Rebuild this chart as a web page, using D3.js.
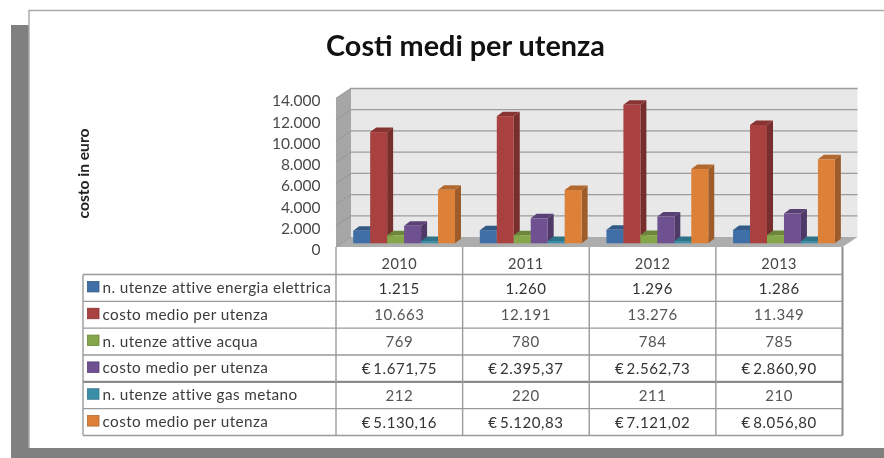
<!DOCTYPE html>
<html><head><meta charset="utf-8">
<style>html,body{margin:0;padding:0;background:#fff}svg{display:block;filter:blur(.55px)}
text{font-family:Lato,"Open Sans",sans-serif}</style>
<script src="https://cdn.jsdelivr.net/npm/d3@7"></script></head>
<body><svg id="c" width="884" height="458"></svg>
<script>
const years=["2010","2011","2012","2013"];
const seriesLabels=["n. utenze attive energia elettrica","costo medio per utenza","n. utenze attive acqua","costo medio per utenza","n. utenze attive gas metano","costo medio per utenza"];
const utenzeElettrica=[1215,1260,1296,1286];
const costoElettrica=[10663,12191,13276,11349];
const utenzeAcqua=[769,780,784,785];
const costoAcqua=[1671.75,2395.37,2562.73,2860.90];
const utenzeGas=[212,220,211,210];
const costoGas=[5130.16,5120.83,7121.02,8056.80];
const frontColors=["#3f6fa6","#a8413f","#86a64a","#6f5191","#3a8fa8","#dd8139"];
const yTicks=[0,2000,4000,6000,8000,10000,12000,14000];
const title="Costi medi per utenza";
const yTitle="costo in euro";

const seriesValues=[utenzeElettrica,costoElettrica,utenzeAcqua,costoAcqua,utenzeGas,costoGas];
const euroSeries=[false,false,false,true,false,true];
const it=d3.formatLocale({decimal:",",thousands:".",grouping:[3],currency:["€",""]});
const fmtInt=it.format(",d"),fmtEuro=it.format(",.2f");

const svg=d3.select("#c");
// page frame
svg.append("rect").attr("x",11).attr("y",25).attr("width",873).attr("height",433).attr("fill","#808080");
svg.append("rect").attr("x",29).attr("y",11).attr("width",855).attr("height",437).attr("fill","#fff");
svg.append("path").attr("d","M29,448V10.5H884").attr("fill","none").attr("stroke","#a8a8a8").attr("stroke-width",1.4);

svg.append("text").text(title).attr("x",465.5).attr("y",55.5).attr("text-anchor","middle")
  .attr("font-size",28.8).attr("font-weight",700).attr("fill","#111");
svg.append("text").text(yTitle).attr("transform","translate(88.5,173.5) rotate(-90)").attr("text-anchor","middle")
  .attr("font-size",15.6).attr("font-weight",700).attr("fill","#222");

// scales
const x=d3.scaleBand().domain(years).range([336,842.5]);
const inner=d3.scaleBand().domain(d3.range(6)).range([17.2,119]);
const barW=inner.bandwidth();
const barX=(yi,si)=>x(years[yi])+inner(si);
const wallD={dx:15,dy:10};
const yFront=d3.scaleLinear().domain([0,14000]).range([247,98.5]);
const yBar=d3.scaleLinear().domain([0,14000]).range([243.3,97.3]);
const depth={dx:6,dy:4.5};

// walls
const g=svg.append("g");
const wallL=x.range()[0],wallR=x.range()[1];
const y0=yFront(0),yT=yFront(14000);
g.append("path").attr("d",`M${wallL},${y0}L${wallL},${yT}L${wallL+wallD.dx},${yT-wallD.dy}L${wallL+wallD.dx},${y0-wallD.dy}Z`).attr("fill","#a6a6a6");
g.append("path").attr("d",`M${wallL},${y0}L${wallL+wallD.dx},${y0-wallD.dy}L${wallR+wallD.dx},${y0-wallD.dy}L${wallR},${y0}Z`).attr("fill","#adadad");
g.append("rect").attr("x",wallL+wallD.dx).attr("y",yT-wallD.dy).attr("width",wallR-wallL).attr("height",y0-yT).attr("fill","#e8e8e8");
g.selectAll("path.grid").data(yTicks).join("path").attr("class","grid").attr("fill","none")
  .attr("d",d=>`M${wallL},${yFront(d)}L${wallL+wallD.dx},${yFront(d)-wallD.dy}H${d===0?wallL+wallD.dx:wallR+wallD.dx}`)
  .attr("stroke","#9c9c9c").attr("stroke-width",1.3);

// y axis
const ax=svg.append("g").attr("transform","translate(320.5,0)")
  .call(d3.axisLeft(yFront).tickValues(yTicks).tickSize(0).tickPadding(0).tickFormat(d=>fmtInt(d)));
ax.select(".domain").remove();
ax.selectAll("text").attr("font-size",15.5).attr("fill","#4a4a4a").style("font-family","Lato,sans-serif").attr("dy",".48em");

// bars
const barsData=[];
years.forEach((yr,yi)=>seriesValues.forEach((vals,si)=>barsData.push({yi,si,v:vals[yi]})));
const bars=svg.append("g").selectAll("g").data(barsData).join("g");
const c=(i)=>d3.color(frontColors[i]);
bars.append("path").attr("fill",d=>c(d.si).darker(.95)).attr("d",d=>{
  const l=barX(d.yi,d.si)+barW,t=yBar(d.v),b=yBar(0);
  return `M${l},${b}V${t}l${depth.dx},${-depth.dy}V${b-depth.dy}Z`;});
bars.append("path").attr("fill",d=>c(d.si).darker(.6)).attr("d",d=>{
  const l=barX(d.yi,d.si),t=yBar(d.v);
  return `M${l},${t}l${depth.dx},${-depth.dy}h${barW}l${-depth.dx},${depth.dy}Z`;});
bars.append("rect").attr("fill",d=>frontColors[d.si])
  .attr("x",d=>barX(d.yi,d.si)).attr("y",d=>yBar(d.v))
  .attr("width",barW).attr("height",d=>yBar(0)-yBar(d.v));

// data table
const rows=d3.scaleBand().domain(d3.range(6)).range([274.5,435.5]);
const tl=83,tc=x.range()[0],tr=x.range()[1],hdrTop=y0;
const tbl=svg.append("g");
tbl.append("rect").attr("x",tc).attr("y",hdrTop).attr("width",tr-tc).attr("height",rows.range()[1]-hdrTop).attr("fill","#fff");
tbl.append("rect").attr("x",tl).attr("y",rows.range()[0]).attr("width",tc-tl).attr("height",rows.range()[1]-rows.range()[0]).attr("fill","#fff");
const stroke="#9a9a9a";
const line=(x1,y1,x2,y2,w=1.4,col=stroke)=>tbl.append("line").attr("x1",x1).attr("y1",y1).attr("x2",x2).attr("y2",y2).attr("stroke",col).attr("stroke-width",w);
d3.range(7).forEach(i=>{const yy=rows.range()[0]+i*rows.step();line(tl,yy,tr,yy,i===4?2.2:1.4,i===4?"#8a8a8a":stroke);});
line(tl,rows.range()[0],tl,rows.range()[1]);
years.forEach(yr=>line(x(yr),hdrTop,x(yr),rows.range()[1]));
line(tr,hdrTop,tr,rows.range()[1],2,"#8c8c8c");

svg.append("g").selectAll("text").data(years).join("text").text(d=>d)
  .attr("x",d=>x(d)+x.bandwidth()/2).attr("y",hdrTop+21.5).attr("text-anchor","middle")
  .attr("font-size",14.5).attr("fill","#444").attr("letter-spacing",.5);

const lg=svg.append("g").selectAll("g").data(seriesLabels).join("g")
  .attr("transform",(d,i)=>`translate(0,${rows(i)+rows.bandwidth()/2})`);
lg.append("rect").attr("x",87.5).attr("y",-6.5).attr("width",11.5).attr("height",10.5)
  .attr("fill",(d,i)=>frontColors[i]).attr("stroke",(d,i)=>c(i).darker(.6)).attr("stroke-width",.8);
lg.append("text").text(d=>d).attr("x",102.5).attr("y",5).attr("font-size",15.3)
  .attr("fill","#3c3c3c").attr("letter-spacing",.4);

const cells=[];
seriesValues.forEach((vals,si)=>vals.forEach((v,yi)=>cells.push({si,yi,t:euroSeries[si]?"€\u2009"+fmtEuro(v):fmtInt(v)})));
svg.append("g").selectAll("text").data(cells).join("text").text(d=>d.t)
  .attr("x",d=>x(years[d.yi])+x.bandwidth()/2).attr("y",d=>rows(d.si)+rows.bandwidth()/2+5.6)
  .attr("text-anchor","middle").attr("font-size",15).attr("letter-spacing",.55)
  .attr("fill",d=>d.si===0||d.si===3||d.si===5?"#333":"#555");
</script></body></html>
